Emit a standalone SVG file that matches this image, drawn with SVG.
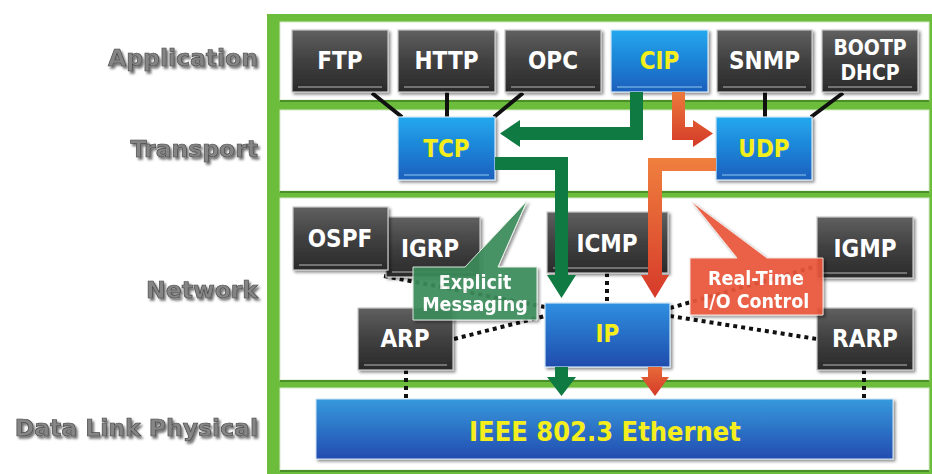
<svg xmlns="http://www.w3.org/2000/svg" width="932" height="474" viewBox="0 0 932 474">
<defs>
<linearGradient id="gDark" x1="0" y1="0" x2="0" y2="1"><stop offset="0" stop-color="#606060"/><stop offset="0.5" stop-color="#404040"/><stop offset="1" stop-color="#2a2a2a"/></linearGradient>
<linearGradient id="gBlue" x1="0" y1="0" x2="0" y2="1"><stop offset="0" stop-color="#22a8ee"/><stop offset="1" stop-color="#1a5fbd"/></linearGradient>
<linearGradient id="gIP" x1="0" y1="0" x2="0" y2="1"><stop offset="0" stop-color="#2f8fe0"/><stop offset="1" stop-color="#1f4cad"/></linearGradient>
<linearGradient id="gEth" x1="0" y1="0" x2="0" y2="1"><stop offset="0" stop-color="#3699dd"/><stop offset="1" stop-color="#234cb0"/></linearGradient>
<linearGradient id="gOr1" x1="0" y1="0" x2="0" y2="1"><stop offset="0" stop-color="#ec7a3c"/><stop offset="1" stop-color="#d43a28"/></linearGradient>
<linearGradient id="gOr2" x1="0" y1="0" x2="0" y2="1"><stop offset="0" stop-color="#f0803e"/><stop offset="1" stop-color="#d63a2a"/></linearGradient>
<linearGradient id="gOr3" x1="0" y1="0" x2="0" y2="1"><stop offset="0" stop-color="#e86a38"/><stop offset="1" stop-color="#d43a28"/></linearGradient>
<filter id="sh" x="-10%" y="-10%" width="125%" height="130%"><feDropShadow dx="2" dy="2" stdDeviation="1.5" flood-color="#000" flood-opacity="0.45"/></filter>
<filter id="tsh" x="-5%" y="-20%" width="110%" height="150%"><feDropShadow dx="2" dy="2.5" stdDeviation="1.2" flood-color="#000" flood-opacity="0.55"/></filter>
<style>
.panel{fill:#ffffff;stroke:#d8e8cc;stroke-width:1}
.dk{fill:url(#gDark);stroke:#c8c8c8;stroke-width:1.2;filter:url(#sh)}
.bl{fill:url(#gBlue);stroke:#d0e6f5;stroke-width:1.2;filter:url(#sh)}
.hl{stroke:#8a8a8a;stroke-width:1.5}
.hlb{stroke:#6aa8e0;stroke-width:1.5}
.bt{font-family:"DejaVu Sans Condensed","DejaVu Sans",sans-serif;font-stretch:condensed;font-weight:bold;font-size:24px;fill:#ffffff;text-anchor:middle}
.yt{fill:#f4ee1c}
.lab{font-family:"DejaVu Sans",sans-serif;font-weight:bold;font-size:23.5px;fill:#858585;stroke:#4a4a4a;stroke-width:0.7;text-anchor:end;filter:url(#tsh)}
.sol{stroke:#111;stroke-width:4;fill:none}
.dot{stroke:#111;stroke-width:4;stroke-dasharray:4 4;fill:none}
.ct{font-family:"DejaVu Sans Condensed","DejaVu Sans",sans-serif;font-stretch:condensed;font-weight:bold;font-size:19.5px;fill:#ffffff;text-anchor:middle}
</style>
</defs>

<rect x="0" y="0" width="932" height="474" fill="#ffffff"/>

<g id="labels">
<text class="lab" x="258" y="66">Application</text>
<text class="lab" x="258" y="157">Transport</text>
<text class="lab" x="258" y="298">Network</text>
<text class="lab" x="258" y="436">Data Link Physical</text>
</g>

<g id="frame">
<rect x="267" y="14" width="670" height="465" fill="#6cbd3c"/>
<rect class="panel" x="280" y="22" width="649" height="78"/>
<rect class="panel" x="280" y="110" width="649" height="81"/>
<rect class="panel" x="280" y="198" width="649" height="182"/>
<rect class="panel" x="280" y="388" width="649" height="82"/>
<rect x="280" y="100" width="649" height="2" fill="#4a8f27"/>
<rect x="280" y="191" width="649" height="2" fill="#4a8f27"/>
<rect x="280" y="380" width="649" height="2" fill="#4a8f27"/>
<rect x="280" y="470" width="649" height="2" fill="#4a8f27"/>
</g>

<g id="connectors">
<line class="sol" x1="372" y1="93" x2="402" y2="117"/>
<line class="sol" x1="447" y1="92" x2="447" y2="117"/>
<line class="sol" x1="523" y1="93" x2="494" y2="117"/>
<line class="sol" x1="765" y1="92" x2="765" y2="117"/>
<line class="sol" x1="843" y1="93" x2="811" y2="117"/>
<line class="dot" x1="384" y1="276" x2="545" y2="307"/>
<line class="dot" x1="454" y1="339" x2="545" y2="316"/>
<line class="dot" x1="607" y1="273" x2="607" y2="303"/>
<line class="dot" x1="670" y1="308" x2="817" y2="266"/>
<line class="dot" x1="670" y1="316" x2="817" y2="339"/>
<line class="dot" x1="406" y1="370" x2="406" y2="399"/>
<line class="dot" x1="864" y1="370" x2="864" y2="399"/>
</g>

<g id="ftp"><rect class="dk" x="292" y="30" width="96" height="62"/><line class="hl" x1="298" y1="87" x2="382" y2="87"/><text class="bt" x="340" y="69">FTP</text></g>
<g id="http"><rect class="dk" x="398" y="30" width="97" height="62"/><line class="hl" x1="404" y1="87" x2="489" y2="87"/><text class="bt" x="446.5" y="69">HTTP</text></g>
<g id="opc"><rect class="dk" x="505" y="30" width="96" height="62"/><line class="hl" x1="511" y1="87" x2="595" y2="87"/><text class="bt" x="553" y="69">OPC</text></g>
<g id="cip"><rect class="bl" x="611" y="30" width="97" height="62"/><line class="hlb" x1="617" y1="87" x2="702" y2="87"/><text class="bt yt" x="659.5" y="69">CIP</text></g>
<g id="snmp"><rect class="dk" x="717" y="30" width="95" height="62"/><line class="hl" x1="723" y1="87" x2="806" y2="87"/><text class="bt" x="764.5" y="69">SNMP</text></g>
<g id="bootp"><rect class="dk" x="822" y="30" width="96" height="62"/><line class="hl" x1="828" y1="87" x2="912" y2="87"/><text class="bt" x="870" y="55" style="font-size:21px">BOOTP</text><text class="bt" x="870" y="80" style="font-size:21px">DHCP</text></g>

<g id="tcp"><rect class="bl" x="398" y="117" width="97" height="63"/><line class="hlb" x1="404" y1="175" x2="489" y2="175"/><text class="bt yt" x="446.5" y="157">TCP</text></g>
<g id="udp"><rect class="bl" x="716" y="117" width="96" height="63"/><line class="hlb" x1="722" y1="175" x2="806" y2="175"/><text class="bt yt" x="764" y="157">UDP</text></g>

<g id="igrp"><rect class="dk" x="386" y="217" width="94" height="60"/><line class="hl" x1="392" y1="272" x2="474" y2="272"/><text class="bt" x="430" y="257">IGRP</text></g>
<g id="ospf"><rect class="dk" x="293" y="207" width="95" height="63"/><line class="hl" x1="299" y1="265" x2="382" y2="265"/><text class="bt" x="340" y="247">OSPF</text></g>
<g id="icmp"><rect class="dk" x="547" y="212" width="121" height="61"/><line class="hl" x1="553" y1="268" x2="662" y2="268"/><text class="bt" x="607" y="252">ICMP</text></g>
<g id="igmp"><rect class="dk" x="817" y="217" width="96" height="61"/><line class="hl" x1="823" y1="273" x2="907" y2="273"/><text class="bt" x="865" y="257">IGMP</text></g>
<g id="arp"><rect class="dk" x="358" y="308" width="95" height="62"/><line class="hl" x1="364" y1="365" x2="447" y2="365"/><text class="bt" x="405" y="347">ARP</text></g>
<g id="rarp"><rect class="dk" x="817" y="308" width="96" height="62"/><line class="hl" x1="823" y1="365" x2="907" y2="365"/><text class="bt" x="865" y="347">RARP</text></g>
<g id="ip"><rect x="545" y="303" width="125" height="64" fill="url(#gIP)" stroke="#d0e6f5" stroke-width="1.2" filter="url(#sh)"/><text class="bt yt" x="607.5" y="342">IP</text></g>
<g id="ethernet"><rect x="316" y="399" width="577" height="60" fill="url(#gEth)" stroke="#d0e6f5" stroke-width="1" filter="url(#sh)"/><text class="bt yt" x="605" y="441" style="font-size:27px">IEEE 802.3 Ethernet</text></g>

<g id="flows">
<polygon fill="#0f7a42" points="630,92 643,92 643,140 520,140 520,147 500,133.5 520,120 520,127 630,127"/>
<polygon fill="url(#gOr1)" points="672,92 685,92 685,127 693,127 693,120 713,133.5 693,147 693,140 672,140"/>
<polygon fill="#0f7a42" points="495,157 568,157 568,275 576,275 561.5,298 547,275 555,275 555,170 495,170"/>
<polygon fill="url(#gOr2)" points="716,158 716,171 662,171 662,275 669,275 655,298 641,275 648,275 648,158"/>
<polygon fill="#0f7a42" points="555,367 568,367 568,377 576,377 561.5,396 547,377 555,377"/>
<polygon fill="url(#gOr3)" points="648,367 662,367 662,377 669,377 655,396 641,377 648,377"/>
</g>

<g id="explicit" opacity="0.93">
<polygon fill="#3a8b5a" stroke="#e8f0e8" stroke-width="1" points="413,267 465,267 527,201 498,267 537,267 537,320 413,320" filter="url(#sh)"/>
<text class="ct" x="475" y="289">Explicit</text>
<text class="ct" x="475" y="311">Messaging</text>
</g>
<g id="realtime" opacity="0.93">
<polygon fill="#e9573a" stroke="#f5e0da" stroke-width="1" points="690,258 737,258 692,202 767,258 823,258 823,315 690,315" filter="url(#sh)"/>
<text class="ct" x="756" y="285">Real-Time</text>
<text class="ct" x="756" y="308">I/O Control</text>
</g>
</svg>
